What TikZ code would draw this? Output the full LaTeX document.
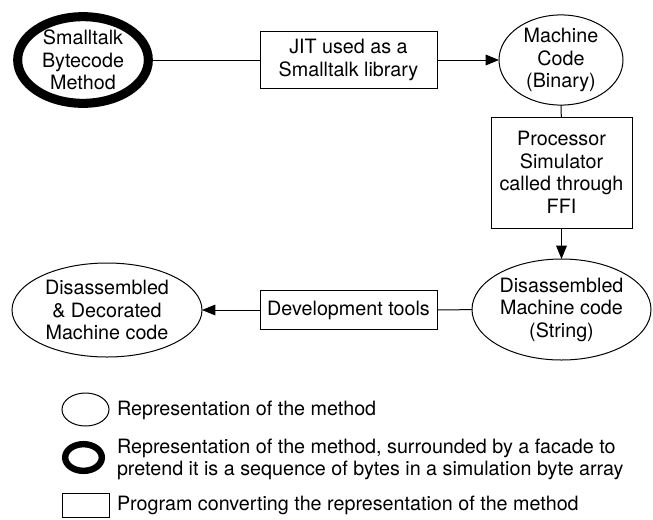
\documentclass[tikz,border=0pt]{standalone}
\usepackage{fontspec}
\setmainfont{TeX Gyre Heros}
\usetikzlibrary{shapes.geometric,arrows.meta}
\begin{document}
\begin{tikzpicture}[x=0.75pt,y=-0.75pt,
  every node/.style={font=\fontsize{14.8}{16.9}\selectfont, inner sep=0pt, outer sep=0pt},
  rep/.style={draw, ellipse, line width=0.75pt, align=center},
  facade/.style={draw, ellipse, line width=6.8pt, align=center},
  prog/.style={draw, rectangle, line width=0.75pt, align=center},
  conn/.style={line width=0.75pt},
  arr/.style={line width=0.75pt, -{Triangle[length=10pt,width=8pt]}},
  legtext/.style={anchor=west, align=left, font=\fontsize{14.8}{16.5}\selectfont}
]
\useasboundingbox (0,0) rectangle (653,519);
% main nodes
\node[facade, minimum width=98pt, minimum height=65pt] (st) at (83,60) {Smalltalk\\Bytecode\\Method};
\node[prog, minimum width=132.75pt, minimum height=42.75pt] (jit) at (348.5,60) {JIT used as a\\Smalltalk library};
\node[rep, minimum width=93pt, minimum height=66pt] (mc) at (561,60) {Machine\\Code\\(Binary)};
\node[prog, minimum width=105.75pt, minimum height=83.25pt] (proc) at (561.5,172.5) {Processor\\Simulator\\called through\\FFI};
\node[rep, minimum width=134.25pt, minimum height=75.75pt] (dis) at (561.5,309.5) {Disassembled\\Machine code\\(String)};
\node[prog, minimum width=132.75pt, minimum height=29.25pt] (dev) at (348.5,310) {Development tools};
\node[rep, minimum width=142.5pt, minimum height=70.5pt] (dec) at (107,310) {Disassembled\\\& Decorated\\Machine code};
% connectors
\draw[conn] (st) -- (jit);
\draw[arr] (jit) -- (mc);
\draw[conn] (mc) -- (proc);
\draw[arr] (proc) -- (dis);
\draw[conn] (dis) -- (dev);
\draw[arr] (dev) -- (dec);
% legend
\node[rep, minimum width=35.25pt, minimum height=24.75pt] (l1) at (85.5,409.5) {};
\node[facade, line width=4.8pt, minimum width=27.5pt, minimum height=20pt] (l2) at (83.5,457.5) {};
\node[prog, minimum width=35.25pt, minimum height=18pt] (l3) at (85.5,505) {};
\node[legtext] (t1) at (117,410) {Representation of the method};
\node[legtext] (t2) at (117,459) {Representation of the method, surrounded by a facade to\\pretend it is a sequence of bytes in a simulation byte array};
\node[legtext] (t3) at (117,505) {Program converting the representation of the method};
\end{tikzpicture}
\end{document}
